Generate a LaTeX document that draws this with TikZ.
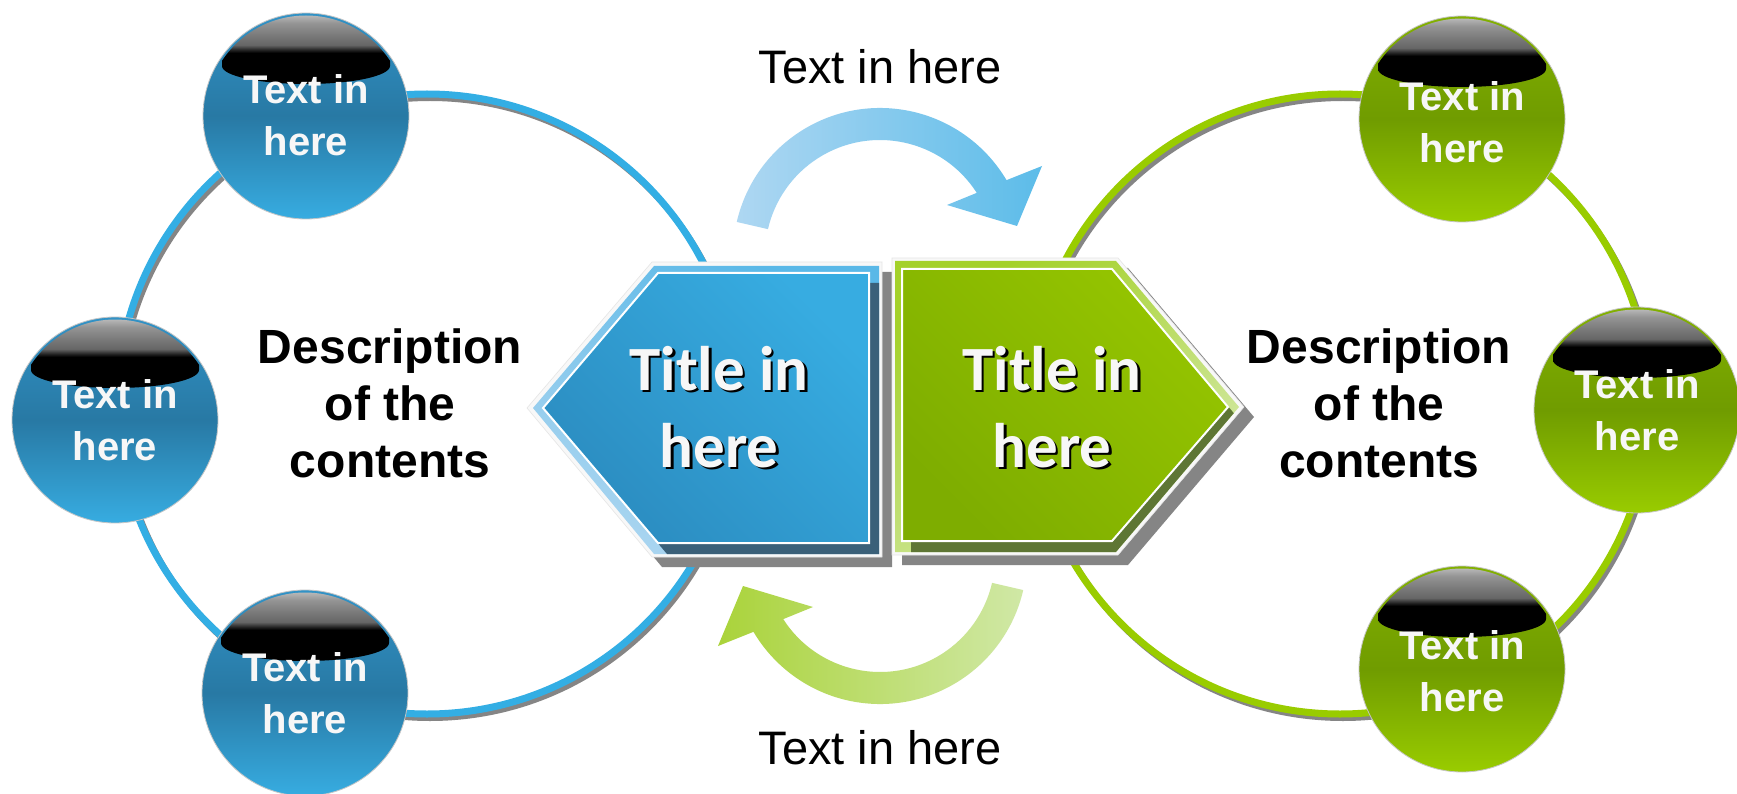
\documentclass[tikz,border=0pt]{standalone}
\usepackage{fontspec}
\setmainfont{Liberation Sans}
\newfontfamily\calfont{Carlito}
\usetikzlibrary{calc}
\definecolor{ringblue}{HTML}{33AEE4}
\definecolor{ringgreen}{HTML}{99CC00}
\definecolor{shadowgray}{HTML}{858585}
\definecolor{cbtop}{HTML}{3192C6}
\definecolor{cbmid}{HTML}{2879A4}
\definecolor{cbbot}{HTML}{37ACE1}
\definecolor{cgtop}{HTML}{82B000}
\definecolor{cgmid}{HTML}{709C00}
\definecolor{cgbot}{HTML}{99CC00}
\definecolor{arrbl}{HTML}{AED7F2}
\definecolor{arrbr}{HTML}{5CBCE9}
\definecolor{arrgl}{HTML}{AAD33A}
\definecolor{arrgr}{HTML}{D0E8A6}
\definecolor{hexwhite}{HTML}{F8F8F8}
\definecolor{bandbtop}{HTML}{5AB8E7}
\definecolor{bandbbot}{HTML}{AAD5F0}
\definecolor{mainbtop}{HTML}{37ACE1}
\definecolor{mainbbot}{HTML}{2B8CC0}
\definecolor{darkb}{HTML}{3A6079}
\definecolor{bandgtop}{HTML}{A4D12A}
\definecolor{bandgbot}{HTML}{D8EBB2}
\definecolor{maingtop}{HTML}{95C500}
\definecolor{maingbot}{HTML}{7EAD00}
\definecolor{darkg}{HTML}{5E7634}
\definecolor{textwhite}{HTML}{F7F7F7}
\pgfdeclareverticalshading{gloss}{100bp}{color(0bp)=(black); color(45bp)=(black); color(47bp)=(black!85); color(50bp)=(black!60); color(58bp)=(black!50); color(64bp)=(black!42); color(69bp)=(black!28); color(75bp)=(black!17); color(100bp)=(black!17)}
\tikzset{
  bluebub/.style={top color=cbtop, bottom color=cbbot, middle color=cbmid},
  greenbub/.style={top color=cgtop, bottom color=cgbot, middle color=cgmid},
  circtext/.style={anchor=base, inner sep=0pt, text=textwhite, font=\bfseries\fontsize{40}{48}\selectfont},
  titletext/.style={anchor=base, inner sep=0pt, text=textwhite, font=\calfont\bfseries\fontsize{63}{75}\selectfont},
  titleshade/.style={anchor=base, inner sep=0pt, text=black, font=\calfont\bfseries\fontsize{63}{75}\selectfont},
  desctext/.style={anchor=base, inner sep=0pt, text=black, font=\bfseries\fontsize{48}{56}\selectfont},
  captext/.style={anchor=base, inner sep=0pt, text=black, font=\fontsize{47}{56}\selectfont},
}
% #1 name, #2 x, #3 y, #4 fill style, #5 text offset
\newcommand\bubble[5]{%
  \shadedraw[#4, draw=gray!45, line width=0.8] (#2,#3) circle[radius=103];
  \begin{scope}
    \clip (#2,#3) circle[radius=100.5];
    \shade[shading=gloss] ({#2-84},{#3-50}) arc[start angle=180, end angle=0, x radius=84, y radius=18] -- ({#2+84},{#3-110}) -- ({#2-84},{#3-110}) -- cycle;
  \end{scope}
  \node[circtext] (#1a) at (#2,{#3-12+#5}) {Text in};
  \node[circtext] (#1b) at (#2,{#3+40+#5}) {here};
}
\begin{document}
\begin{tikzpicture}[x=1pt,y=-1pt]
\useasboundingbox (0,0) rectangle (1737,794);
\fill[white] (0,0) rectangle (1737,794);
% rings
\draw[shadowgray, line width=6] (430,408) circle[radius=310];
\draw[ringblue, line width=7] (427,404) circle[radius=310];
\draw[shadowgray, line width=6] (1343,408) circle[radius=310];
\draw[ringgreen, line width=7] (1340,404) circle[radius=310];
% bubbles
\bubble{L1}{306}{116}{bluebub}{0}
\bubble{L2}{115}{420}{bluebub}{0}
\bubble{L3}{305}{693}{bluebub}{0}
\bubble{R1}{1462}{119}{greenbub}{4}
\bubble{R2}{1637}{410}{greenbub}{0}
\bubble{R3}{1462}{669}{greenbub}{2}
% curved arrows
\shade[left color=arrbl, right color=arrbr] ([shift={(880,255)}]-167:147) arc[start angle=-167, end angle=-30.6, radius=147] -- (1042,166) -- (1017,226) -- (947,205) -- ([shift={(880,255)}]-32.7:115) arc[start angle=-32.7, end angle=-167, radius=115] -- cycle;
\shade[left color=arrgl, right color=arrgr] ([shift={(880,557)}]13:147) arc[start angle=13, end angle=149.4, radius=147] -- (718,646) -- (743,586) -- (813,607) -- ([shift={(880,557)}]147.3:115) arc[start angle=147.3, end angle=13, radius=115] -- cycle;
% blue half
\fill[shadowgray] (537,418) -- (662,272) -- (892,272) -- (892,567) -- (662,567) -- cycle;
\filldraw[hexwhite, draw=gray!20, line width=0.6] (527,408) -- (652,262) -- (882,262) -- (882,557) -- (652,557) -- cycle;
\shade[top color=bandbtop, bottom color=bandbbot, shading angle=-30] (533,408) -- (654,266) -- (879,266) -- (879,554) -- (654,554) -- cycle;
\begin{scope}
  \clip (533,408) -- (654,266) -- (879,266) -- (879,554) -- (654,554) -- cycle;
  \fill[darkb] (552,418) -- (667,283) -- (879,283) -- (879,554) -- (667,554) -- cycle;
\end{scope}
\shadedraw[top color=mainbtop, bottom color=mainbbot, shading angle=-45, draw=white, line width=2] (543,408) -- (658,273) -- (869,273) -- (869,543) -- (658,543) -- cycle;
% green half
\fill[shadowgray] (902,268) -- (1128,268) -- (1254,417) -- (1128,565) -- (902,565) -- cycle;
\filldraw[hexwhite, draw=gray!20, line width=0.6] (892,258) -- (1118,258) -- (1244,407) -- (1118,555) -- (892,555) -- cycle;
\shade[top color=bandgtop, bottom color=bandgbot, shading angle=30] (895,261) -- (1116,261) -- (1239,407) -- (1116,552) -- (895,552) -- cycle;
\begin{scope}
  \clip (895,261) -- (1116,261) -- (1239,407) -- (1116,552) -- (895,552) -- cycle;
  \fill[darkg] (911,279) -- (1121,279) -- (1237,417) -- (1121,552) -- (911,552) -- cycle;
\end{scope}
\shadedraw[top color=maingtop, bottom color=maingbot, shading angle=-45, draw=white, line width=2] (902,269) -- (1112,269) -- (1228,407) -- (1112,541) -- (902,541) -- cycle;
% titles
\node[titleshade] (tbs1) at (721.5,392.5) {Title in};
\node[titleshade] (tbs2) at (721.5,469.5) {here};
\node[titletext] (tb1) at (719,390) {Title in};
\node[titletext] (tb2) at (719,467) {here};
\node[titleshade] (tgs1) at (1054.5,392.5) {Title in};
\node[titleshade] (tgs2) at (1054.5,469.5) {here};
\node[titletext] (tg1) at (1052,390) {Title in};
\node[titletext] (tg2) at (1052,467) {here};
% descriptions
\node[desctext] (dl1) at (390,363) {Description};
\node[desctext] (dl2) at (390,420) {of the};
\node[desctext] (dl3) at (390,477) {contents};
\node[desctext] (dr1) at (1379,363) {Description};
\node[desctext] (dr2) at (1379,420) {of the};
\node[desctext] (dr3) at (1379,477) {contents};
% captions
\node[captext] (captop) at (880,84) {Text in here};
\node[captext] (capbot) at (880,764) {Text in here};
\end{tikzpicture}
\end{document}
